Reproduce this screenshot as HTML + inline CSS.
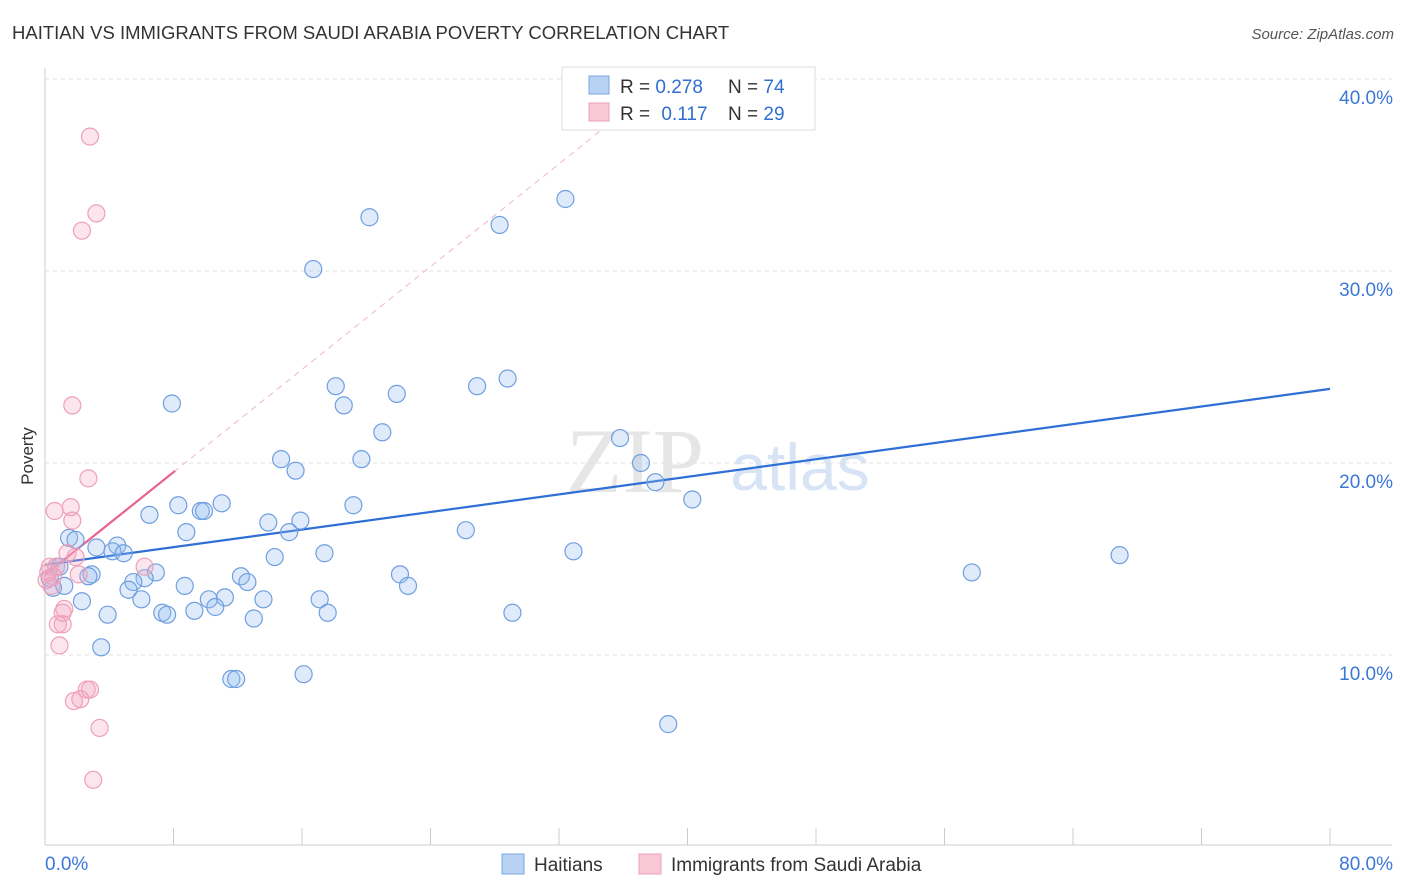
<!DOCTYPE html>
<html><head><meta charset="utf-8"><style>
body{margin:0;background:#fff;font-family:"Liberation Sans",sans-serif;}
svg{display:block}
</style></head><body>
<svg id="chart" width="1406" height="892">
<text x="12" y="39" font-size="18.5" fill="#333">HAITIAN VS IMMIGRANTS FROM SAUDI ARABIA POVERTY CORRELATION CHART</text>
<text x="1394" y="39" font-size="15" fill="#555" font-style="italic" text-anchor="end">Source: ZipAtlas.com</text>
<text x="33" y="456" font-size="17" fill="#333" text-anchor="middle" transform="rotate(-90 33 456)">Poverty</text>
<g><text x="635" y="492" font-size="92" fill="#e6e6e6" font-family="Liberation Serif,serif" text-anchor="middle">ZIP</text><text x="800" y="490" font-size="66" fill="#d6e4f5" text-anchor="middle">atlas</text></g>
<g id="grid"></g><g id="axes"></g><g id="trend"></g><g id="pts"></g>
<g>
<rect x="562" y="67" width="253" height="63" fill="#fff" stroke="#ddd"/>
<rect x="589" y="76" width="20" height="18" fill="#b8d2f4" stroke="#7aa6e0"/>
<rect x="589" y="103" width="20" height="18" fill="#f8c8d6" stroke="#eea0b8"/>
<text x="620" y="93" font-size="19" fill="#333">R = <tspan fill="#2f6fd0">0.278</tspan></text>
<text x="728" y="93" font-size="19" fill="#333">N = <tspan fill="#2f6fd0">74</tspan></text>
<text x="620" y="120" font-size="19" fill="#333">R = <tspan fill="#2f6fd0" dx="6">0.117</tspan></text>
<text x="728" y="120" font-size="19" fill="#333">N = <tspan fill="#2f6fd0">29</tspan></text>
</g>
<g>
<rect x="502" y="854" width="22" height="20" fill="#b8d2f4" stroke="#7aa6e0"/>
<text x="534" y="871" font-size="19" fill="#333">Haitians</text>
<rect x="639" y="854" width="22" height="20" fill="#f8c8d6" stroke="#eea0b8"/>
<text x="671" y="871" font-size="19" fill="#333">Immigrants from Saudi Arabia</text>
</g>
</svg>
<script>
const yTicks=[10,20,30,40];
const xTickLabels=["0.0%","80.0%"];
const blueX=[32.4,28.3,20.2,16.7,28.8,26.9,18.1,21.9,18.6,7.9,21.0,35.8,37.1,19.7,14.7,15.6,38.0,40.3,11.0,8.3,9.7,9.9,6.5,19.2,13.9,15.9,26.2,8.8,15.2,1.5,1.9,3.2,4.5,4.2,4.9,32.9,17.4,66.9,14.3,0.7,0.9,2.9,2.7,6.9,6.2,12.2,57.7,22.1,5.5,22.6,8.7,12.6,0.3,0.5,1.2,5.2,2.3,6.0,10.2,11.2,13.6,17.1,10.6,9.3,7.3,7.6,17.6,29.1,13.0,3.9,3.5,11.6,11.9,16.1,38.8];
const blueY=[33.75,32.4,32.8,30.1,24.4,24.0,24.0,23.6,23.0,23.1,21.6,21.3,20.0,20.2,20.2,19.6,19.0,18.1,17.9,17.8,17.5,17.5,17.3,17.8,16.9,17.0,16.5,16.4,16.4,16.1,16.0,15.6,15.7,15.4,15.3,15.4,15.3,15.2,15.1,14.6,14.6,14.2,14.1,14.3,14.0,14.1,14.3,14.2,13.8,13.6,13.6,13.8,14.0,13.5,13.6,13.4,12.8,12.9,12.9,13.0,12.9,12.9,12.5,12.3,12.2,12.1,12.2,12.2,11.9,12.1,10.4,8.75,8.75,9.0,6.4];
const pinkX=[2.8,3.2,2.3,1.7,2.7,1.6,0.6,1.7,1.4,1.9,0.3,0.7,6.2,0.2,0.5,2.1,0.1,0.4,1.2,1.1,1.1,0.8,0.9,2.6,2.8,1.8,2.2,3.4,3.0];
const pinkY=[37.0,33.0,32.1,23.0,19.2,17.7,17.5,17.0,15.3,15.1,14.6,14.6,14.6,14.3,14.1,14.2,13.9,13.6,12.4,12.2,11.6,11.6,10.5,8.2,8.2,7.6,7.7,6.2,3.5];
const blueTrend=[14.7,0.1145];
const pinkTrend=[14.17,0.669];
const NS="http://www.w3.org/2000/svg";
const sx=v=>45+v/80*1285, sy=v=>847-v*19.2;
function mk(tag,attrs,parent){const e=document.createElementNS(NS,tag);for(const k in attrs)e.setAttribute(k,attrs[k]);document.getElementById(parent).appendChild(e);return e;}
yTicks.forEach(t=>{
 const l=mk('line',{x1:45,x2:1392,y1:sy(t),y2:sy(t),stroke:'#e0e0e0','stroke-dasharray':'4,4'},'grid');
 
 
 const tx=mk('text',{x:1393,y:sy(t)+25,'font-size':19,fill:'#3b78d8','text-anchor':'end'},'grid');
 tx.textContent=t.toFixed(1)+'%';
 
 
});
const xa=mk('line',{x1:45,x2:1392,y1:845,y2:845,stroke:'#ccc'},'axes');


const ya=mk('line',{x1:45,x2:45,y1:68,y2:845,stroke:'#ccc'},'axes');


for(let i=0;i<=10;i++){const t=mk('line',{x1:sx(i*8),x2:sx(i*8),y1:828,y2:845,stroke:'#ccc'},'axes');
 
 }
const xl0=mk('text',{x:45,y:870,'font-size':19,fill:'#3b78d8'},'axes');xl0.textContent=xTickLabels[0];


const xl1=mk('text',{x:1393,y:870,'font-size':19,fill:'#3b78d8','text-anchor':'end'},'axes');xl1.textContent=xTickLabels[1];


blueX.forEach((x,i)=>{const c=mk('circle',{cx:sx(x),cy:sy(blueY[i]),r:8.5,fill:'rgba(150,190,240,0.3)',stroke:'#6f9fe0','stroke-width':1.2},'pts');
 
 });
pinkX.forEach((x,i)=>{const c=mk('circle',{cx:sx(x),cy:sy(pinkY[i]),r:8.5,fill:'rgba(245,170,195,0.3)',stroke:'#eea0b8','stroke-width':1.2},'pts');
 
 });
const bt=mk('line',{x1:sx(0),y1:sy(blueTrend[0]),x2:sx(80),y2:sy(blueTrend[0]+80*blueTrend[1]),stroke:'#2f6fd6','stroke-width':2.2},'trend');


const xe=(40.5-pinkTrend[0])/pinkTrend[1];
const pd=mk('line',{x1:sx(0),y1:sy(pinkTrend[0]),x2:sx(xe),y2:sy(40.5),stroke:'#eeb8c8','stroke-width':1,'stroke-dasharray':'6,5'},'trend');


const pmax=Math.max(...pinkX)+1.9;
const pt=mk('line',{x1:sx(0),y1:sy(pinkTrend[0]),x2:sx(pmax),y2:sy(pinkTrend[0]+pmax*pinkTrend[1]),stroke:'#e8628c','stroke-width':2.2},'trend');


</script>
</body></html>
